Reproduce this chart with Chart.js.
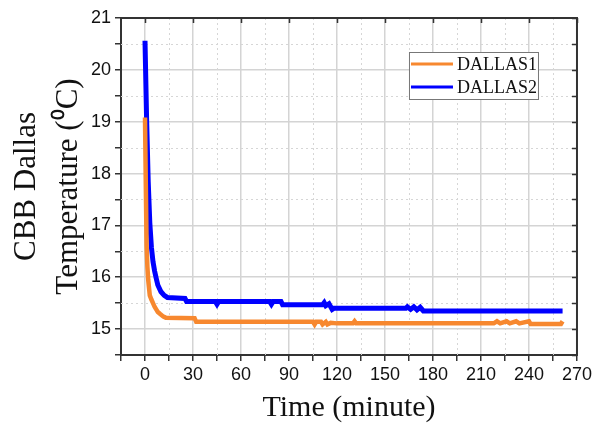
<!DOCTYPE html>
<html>
<head>
<meta charset="utf-8">
<script src="https://cdn.jsdelivr.net/npm/chart.js@4"></script>
<style>
  body { margin: 0; background: #fff; }
  #wrap { width: 595px; height: 427px; }
</style>
</head>
<body>
<div id="wrap"><canvas id="tempChart" width="595" height="427"></canvas></div>
<script>
// Dallas probe readings (minutes, deg C)
const timeD1 = [0, 0.5, 1, 1.5, 2, 3, 4, 5, 6, 7, 8, 9.5, 11.5, 13, 31, 32,
  105, 106, 107, 110, 111, 113, 114, 116, 120, 130, 131, 132,
  218, 220, 222, 226, 228, 232, 234, 240, 241, 260, 261];
const tempD1 = [19.08, 17.8, 16.6, 16.2, 15.95, 15.65, 15.57, 15.5, 15.43, 15.38, 15.33, 15.29, 15.24, 15.22, 15.21, 15.14,
  15.14, 15.09, 15.14, 15.14, 15.09, 15.14, 15.09, 15.12, 15.11, 15.11, 15.15, 15.11,
  15.11, 15.15, 15.11, 15.15, 15.11, 15.15, 15.11, 15.15, 15.1, 15.1, 15.15];

const timeD2 = [0, 1, 2, 3, 4, 5, 6, 7, 8, 10, 12, 14, 25, 26,
  44, 45, 46, 78, 79, 80, 85, 86, 111, 112, 113, 115, 117, 118,
  163, 164, 166, 168, 170, 172, 174, 261];
const tempD2 = [20.56, 19.05, 17.85, 17.05, 16.58, 16.3, 16.12, 15.98, 15.85, 15.72, 15.65, 15.61, 15.59, 15.53,
  15.53, 15.48, 15.53, 15.53, 15.48, 15.53, 15.53, 15.47, 15.47, 15.51, 15.45, 15.49, 15.38, 15.4,
  15.4, 15.43, 15.38, 15.43, 15.37, 15.42, 15.35, 15.35];

const seriesNames = ['DALLAS1', 'DALLAS2'];
const seriesColors = ['#f7882f', '#0000ff'];

const xTickLabels = [0, 30, 60, 90, 120, 150, 180, 210, 240, 270];
const yTickLabels = [15, 16, 17, 18, 19, 20, 21];

const toPoints = (xs, ys) => xs.map((t, i) => ({ x: t, y: ys[i] }));

const isMajorX = v => xTickLabels.includes(v);
const isMajorY = v => yTickLabels.includes(v);

// dotted minor grid (every 15 min / 0.5 deg)
const minorGrid = {
  id: 'minorGrid',
  beforeDatasetsDraw(chart) {
    const { ctx, chartArea: a, scales: { x, y } } = chart;
    ctx.save();
    ctx.strokeStyle = '#d6d6d6';
    ctx.lineWidth = 1;
    ctx.setLineDash([2, 3]);
    ctx.beginPath();
    x.ticks.forEach(t => {
      if (isMajorX(t.value) || t.value === x.min) return;
      const px = Math.round(x.getPixelForValue(t.value)) + 0.5;
      ctx.moveTo(px, a.top);
      ctx.lineTo(px, a.bottom);
    });
    y.ticks.forEach(t => {
      if (isMajorY(t.value) || t.value === y.min) return;
      const py = Math.round(y.getPixelForValue(t.value)) + 0.5;
      ctx.moveTo(a.left, py);
      ctx.lineTo(a.right, py);
    });
    ctx.stroke();
    ctx.restore();
  }
};

// frame on top/right with inward ticks
const framePlugin = {
  id: 'framePlugin',
  afterDatasetsDraw(chart) {
    const { ctx, chartArea: a, scales: { x, y } } = chart;
    ctx.save();
    ctx.strokeStyle = '#333';
    ctx.lineWidth = 2;
    ctx.beginPath();
    ctx.moveTo(a.left - 1, a.top);
    ctx.lineTo(a.right, a.top);
    ctx.lineTo(a.right, a.bottom + 1);
    ctx.stroke();

    ctx.lineWidth = 1.5;
    ctx.beginPath();
    x.ticks.forEach(t => {
      if (isMajorX(t.value)) {
        const px = Math.round(x.getPixelForValue(t.value)) + 0.5;
        ctx.moveTo(px, a.top);
        ctx.lineTo(px, a.top + 5);
      }
    });
    y.ticks.forEach(t => {
      const py = Math.round(y.getPixelForValue(t.value)) + 0.5;
      ctx.moveTo(a.right, py);
      ctx.lineTo(a.right - 5, py);
    });
    ctx.stroke();
    ctx.restore();
  }
};

// boxed legend inside the plot
const boxLegend = {
  id: 'boxLegend',
  afterDraw(chart) {
    const { ctx, chartArea: a } = chart;
    const bx = a.right - 168, by = a.top + 34, bw = 129, bh = 47;
    ctx.save();
    ctx.fillStyle = '#fff';
    ctx.fillRect(bx, by, bw, bh);
    ctx.strokeStyle = '#777';
    ctx.lineWidth = 1;
    ctx.strokeRect(bx + 0.5, by + 0.5, bw, bh);
    chart.data.datasets.forEach((ds, i) => {
      const ly = by + 12 + i * 23;
      ctx.strokeStyle = ds.borderColor;
      ctx.lineWidth = 3;
      ctx.beginPath();
      ctx.moveTo(bx + 2, ly);
      ctx.lineTo(bx + 44, ly);
      ctx.stroke();
      ctx.fillStyle = '#111';
      ctx.font = '18px "Liberation Serif"';
      ctx.textBaseline = 'middle';
      ctx.fillText(ds.label, bx + 48, ly + 1);
    });
    ctx.restore();
  }
};

new Chart(document.getElementById('tempChart'), {
  type: 'line',
  data: {
    datasets: [
      {
        label: seriesNames[0],
        data: toPoints(timeD1, tempD1),
        borderColor: seriesColors[0],
        backgroundColor: seriesColors[0],
        borderWidth: 4.5,
        pointRadius: 0,
        tension: 0
      },
      {
        label: seriesNames[1],
        data: toPoints(timeD2, tempD2),
        borderColor: seriesColors[1],
        backgroundColor: seriesColors[1],
        borderWidth: 5,
        pointRadius: 0,
        tension: 0
      }
    ]
  },
  options: {
    responsive: false,
    animation: false,
    layout: { padding: { top: 18, right: 18, left: 0, bottom: 0 } },
    plugins: {
      legend: { display: false },
      tooltip: { enabled: false }
    },
    scales: {
      x: {
        type: 'linear',
        min: -15,
        max: 270,
        afterFit(s) { s.height = 72; },
        ticks: {
          stepSize: 15,
          autoSkip: false,
          maxRotation: 0,
          color: '#111',
          padding: 3,
          font: { family: 'Liberation Sans', size: 18 },
          callback: v => isMajorX(v) ? String(v) : ''
        },
        grid: {
          color: c => isMajorX(c.tick.value) ? '#d4d4d4' : 'rgba(0,0,0,0)',
          lineWidth: 1.5,
          tickColor: '#333',
          tickLength: 6,
          tickWidth: 1.5
        },
        border: { color: '#333', width: 2 },
        title: {
          display: true,
          text: 'Time (minute)',
          color: '#111',
          font: { family: 'Liberation Serif', size: 30 },
          padding: { top: 0, bottom: 1 }
        }
      },
      y: {
        min: 14.5,
        max: 21,
        afterFit(s) { s.width = 121; },
        ticks: {
          stepSize: 0.5,
          autoSkip: false,
          color: '#111',
          padding: 4,
          font: { family: 'Liberation Sans', size: 18 },
          callback: v => isMajorY(v) ? String(v) : ''
        },
        grid: {
          color: c => isMajorY(c.tick.value) ? '#d4d4d4' : 'rgba(0,0,0,0)',
          lineWidth: 1.5,
          tickColor: '#333',
          tickLength: 6,
          tickWidth: 1.5
        },
        border: { color: '#333', width: 2 },
        title: {
          display: true,
          text: ['CBB Dallas', 'Temperature (\u2070C)'],
          color: '#111',
          font: { family: 'Liberation Serif', size: 31, lineHeight: 1.38 },
          padding: { top: 5, bottom: 0 }
        }
      }
    }
  },
  plugins: [minorGrid, framePlugin, boxLegend]
});
</script>
</body>
</html>
